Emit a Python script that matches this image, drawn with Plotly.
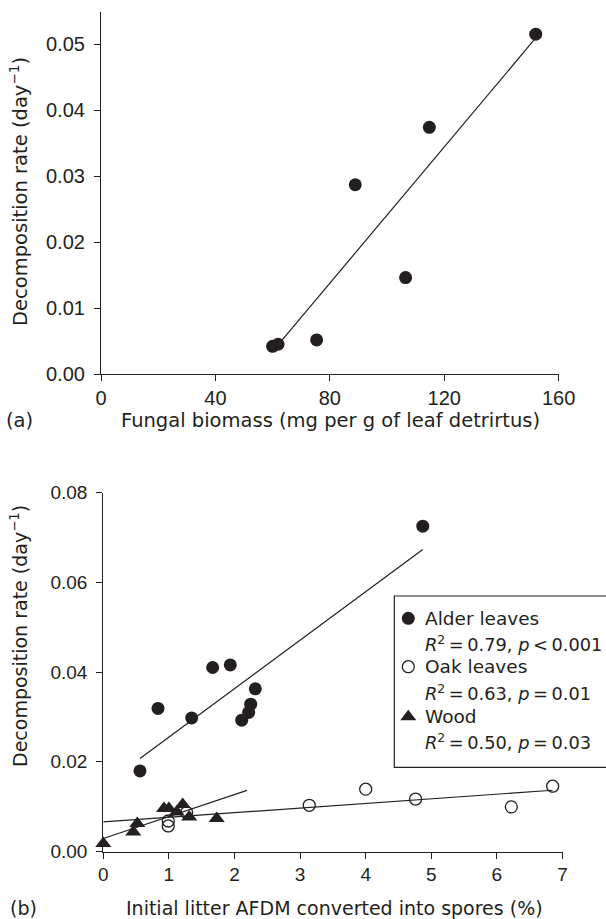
import plotly.graph_objects as go

# ---------------- data ----------------
# Panel (a): fungal biomass vs decomposition rate
fungal_biomass = [60.0, 61.9, 75.4, 88.9, 106.5, 114.8, 152.0]
decomp_a = [0.00424, 0.00455, 0.0052, 0.0287, 0.01465, 0.0374, 0.0515]
fit_a = {"slope": 0.000516, "intercept": -0.0275, "x": [60.0, 152.0]}

# Panel (b): % initial AFDM converted into spores vs decomposition rate
alder_x = [0.559, 0.834, 1.347, 1.667, 1.936, 2.110, 2.216, 2.247, 2.317, 4.87]
alder_y = [0.01797, 0.0319, 0.02979, 0.04103, 0.0416, 0.02928, 0.0310, 0.03284, 0.03626, 0.07253]
oak_x = [0.99, 0.99, 1.27, 3.14, 4.00, 4.76, 6.22, 6.85]
oak_y = [0.0068, 0.0057, 0.0087, 0.0103, 0.0139, 0.0117, 0.00995, 0.01456]
wood_x = [0.0, 0.457, 0.518, 0.925, 1.0, 1.12, 1.21, 1.31, 1.728]
wood_y = [0.00178, 0.00437, 0.00624, 0.0096, 0.0096, 0.00883, 0.01048, 0.0077, 0.00736]

fit_alder = {"slope": 0.01081, "intercept": 0.0147, "x": [0.559, 4.87]}
fit_oak = {"slope": 0.00103, "intercept": 0.0066, "x": [0.0, 6.85]}
fit_wood = {"slope": 0.0049, "intercept": 0.0029, "x": [0.0, 2.19]}

ticks_a_x = [0, 40, 80, 120, 160]
ticks_a_y = [0.00, 0.01, 0.02, 0.03, 0.04, 0.05]
ticks_b_x = [0, 1, 2, 3, 4, 5, 6, 7]
ticks_b_y = [0.00, 0.02, 0.04, 0.06, 0.08]

series_names = ["Alder leaves", "Oak leaves", "Wood"]
series_stats = [
    "<i>R</i><sup>2</sup>\u2009=\u20090.79, <i>p</i>\u2009&lt;\u20090.001",
    "<i>R</i><sup>2</sup>\u2009=\u20090.63, <i>p</i>\u2009=\u20090.01",
    "<i>R</i><sup>2</sup>\u2009=\u20090.50, <i>p</i>\u2009=\u20090.03",
]

# ---------------- style ----------------
INK = "#231f20"
FONT = "DejaVu Sans"
TICKFONT = "Liberation Sans"
W, H = 606, 919
SYMBOLS = ["circle", "circle-open", "triangle-up"]
SIZES = [13, 12, 14]

# legend layout (pixels from top-left)
LEG_BOX = (394.3, 596, W + 3, 767.3)
LEG_MARK_X = 408.3
LEG_TEXT_X = 423.3
LEG_ROW_Y = [618.3, 643.3, 666.7, 692.3, 716.7, 741.7]


def fit_line(fit):
    xs = fit["x"]
    return xs, [fit["slope"] * x + fit["intercept"] for x in xs]


def marker(i):
    m = dict(symbol=SYMBOLS[i], size=SIZES[i], color=INK)
    if SYMBOLS[i].endswith("open"):
        m["line"] = dict(width=1.3, color=INK)
    return m


fig = go.Figure()

# panel a
xs, ys = fit_line(fit_a)
fig.add_trace(go.Scatter(x=xs, y=ys, mode="lines", line=dict(color=INK, width=1.2),
                         xaxis="x", yaxis="y", hoverinfo="skip"))
fig.add_trace(go.Scatter(x=fungal_biomass, y=decomp_a, mode="markers", marker=marker(0),
                         xaxis="x", yaxis="y", cliponaxis=False))

# panel b fit lines
for f in (fit_alder, fit_oak, fit_wood):
    xs, ys = fit_line(f)
    fig.add_trace(go.Scatter(x=xs, y=ys, mode="lines", line=dict(color=INK, width=1.2),
                             xaxis="x2", yaxis="y2", hoverinfo="skip"))

for i, (sx, sy) in enumerate([(alder_x, alder_y), (oak_x, oak_y), (wood_x, wood_y)]):
    fig.add_trace(go.Scatter(x=sx, y=sy, mode="markers", name=series_names[i],
                             marker=marker(i), xaxis="x2", yaxis="y2", cliponaxis=False))

# legend symbols on a pixel overlay axis
for i in range(3):
    fig.add_trace(go.Scatter(x=[LEG_MARK_X], y=[LEG_ROW_Y[2 * i]], mode="markers",
                             marker=marker(i), xaxis="x3", yaxis="y3",
                             hoverinfo="skip", cliponaxis=False))

axis_common = dict(showline=True, linecolor=INK, linewidth=1.2, ticks="outside",
                   ticklen=6, tickwidth=1.2, tickcolor=INK, showgrid=False,
                   zeroline=False, automargin=False)

fig.update_layout(
    width=W, height=H,
    margin=dict(l=0, r=0, t=0, b=0, autoexpand=False),
    paper_bgcolor="white", plot_bgcolor="rgba(0,0,0,0)",
    font=dict(family=FONT, color=INK, size=19),
    showlegend=False,
    xaxis=dict(domain=[101 / W, 558.6 / W], range=[0, 160], tickvals=ticks_a_x,
               anchor="y", tickfont=dict(family=TICKFONT, size=20), **axis_common),
    yaxis=dict(domain=[1 - 374.3 / H, 1 - 11.7 / H], range=[0, 0.0549],
               tickvals=ticks_a_y, tickformat=".2f", anchor="x",
               tickfont=dict(family=TICKFONT, size=20), ticklabelstandoff=5, **axis_common),
    xaxis2=dict(domain=[103.3 / W, 562.5 / W], range=[0, 7], tickvals=ticks_b_x,
                anchor="y2", tickfont=dict(family=TICKFONT, size=19), **axis_common),
    yaxis2=dict(domain=[1 - 851.5 / H, 1 - 492.7 / H], range=[0, 0.08],
                tickvals=ticks_b_y, tickformat=".2f", anchor="x2",
                tickfont=dict(family=TICKFONT, size=19), ticklabelstandoff=5, **axis_common),
    xaxis3=dict(domain=[0, 1], range=[0, W], visible=False, anchor="y3"),
    yaxis3=dict(domain=[0, 1], range=[H, 0], visible=False, anchor="x3"),
)

# legend box
fig.add_shape(type="rect", xref="paper", yref="paper",
              x0=LEG_BOX[0] / W, x1=LEG_BOX[2] / W, y0=1 - LEG_BOX[1] / H, y1=1 - LEG_BOX[3] / H,
              line=dict(color=INK, width=1.2), fillcolor="rgba(0,0,0,0)", layer="below")

leg_texts = []
for i in range(3):
    leg_texts += [series_names[i], series_stats[i]]
for j, (txt, yy) in enumerate(zip(leg_texts, LEG_ROW_Y)):
    fig.add_annotation(text=txt, x=LEG_TEXT_X / W, y=1 - yy / H, xref="paper", yref="paper",
                       xanchor="left", yanchor="middle", showarrow=False,
                       font=dict(family=FONT, size=18.5 if j % 2 == 0 else 17.8, color=INK))


def label(text, x, y, size, angle=0):
    fig.add_annotation(text=text, x=x / W, y=1 - y / H, xref="paper", yref="paper",
                       textangle=angle, xanchor="center", yanchor="middle", showarrow=False,
                       font=dict(family=FONT, size=size, color=INK))


label("Decomposition rate (day<sup>\u22121</sup>)", 19, 192, 19.5, -90)
label("Decomposition rate (day<sup>\u22121</sup>)", 19, 636, 19, -90)
label("Fungal biomass (mg per g of leaf detrirtus)", 330, 420, 19.5)
label("Initial litter AFDM converted into spores (%)", 334, 908, 19)
label("(a)", 19, 420, 19.5)
label("(b)", 23, 908, 19)

fig.write_html("out.html", config={"displayModeBar": False},
               post_script="document.body.style.margin='0';")
